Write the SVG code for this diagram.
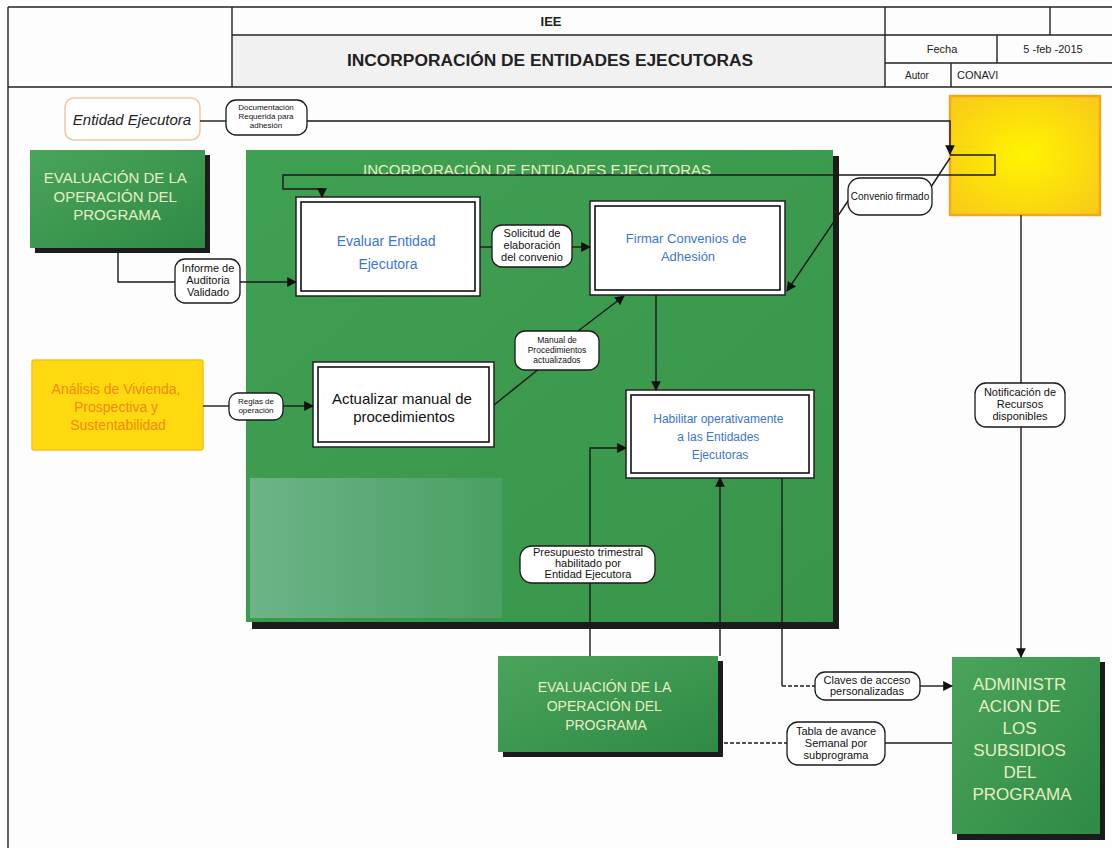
<svg xmlns="http://www.w3.org/2000/svg" width="1112" height="848" viewBox="0 0 1112 848">
  <defs>
    <style>
      .hdr { fill: none; stroke: #222; stroke-width: 1.4; }
      .hdrtxt { font-family: "Liberation Sans", Arial, sans-serif; fill: #222; }
      .conn { fill: none; stroke: #1a1a1a; stroke-width: 1.4; }
      .dash { fill: none; stroke: #1a1a1a; stroke-width: 1.6; stroke-dasharray: 4 2; }
      .lbl { fill: #fff; stroke: #1a1a1a; stroke-width: 1.3; }
      .lbltxt { font-family: "Liberation Sans", Arial, sans-serif; fill: #111; text-anchor: middle; }
      .green { fill: url(#gGreen); }
      .shadow { fill: #1c1c1c; }
      .greentxt { font-family: "Liberation Sans", Arial, sans-serif; fill: #e6efc4; text-anchor: middle; }
      .proc { fill: #fff; stroke: #222; stroke-width: 1.5; }
      .procin { fill: none; stroke: #111; stroke-width: 1.6; }
      .bluetxt { font-family: "Liberation Sans", Arial, sans-serif; fill: #3b74d6; text-anchor: middle; }
    </style>
    <linearGradient id="gGreen" x1="0" y1="0" x2="1" y2="1">
      <stop offset="0" stop-color="#4aa45a"/>
      <stop offset="1" stop-color="#2f8a46"/>
    </linearGradient>
    <linearGradient id="gBig" x1="0" y1="0" x2="1" y2="1">
      <stop offset="0" stop-color="#40a052"/>
      <stop offset="1" stop-color="#38954a"/>
    </linearGradient>
    <linearGradient id="gLight" x1="0" y1="0" x2="1" y2="0">
      <stop offset="0" stop-color="#6cb487"/>
      <stop offset="1" stop-color="#4a9f62"/>
    </linearGradient>
    <radialGradient id="gYellow" cx="0.5" cy="0.5" r="0.7">
      <stop offset="0" stop-color="#fff400"/>
      <stop offset="1" stop-color="#f8c81a"/>
    </radialGradient>
    <marker id="arr" viewBox="0 0 10 10" refX="9" refY="5" markerWidth="7" markerHeight="7" orient="auto-start-reverse">
      <path d="M0,0 L10,5 L0,10 z" fill="#111"/>
    </marker>
  </defs>

  <rect x="0" y="0" width="1112" height="848" fill="#fdfdfd"/>

  <!-- title block -->
  <g id="header">
    <rect x="232" y="35" width="653" height="52" fill="#f1f1f1"/>
    <line class="hdr" x1="8" y1="7" x2="1112" y2="7"/>
    <line class="hdr" x1="8" y1="87" x2="1112" y2="87"/>
    <line class="hdr" x1="8" y1="7" x2="8" y2="848"/>
    <line class="hdr" x1="232" y1="7" x2="232" y2="87"/>
    <line class="hdr" x1="885" y1="7" x2="885" y2="87"/>
    <line class="hdr" x1="232" y1="35" x2="1112" y2="35"/>
    <line class="hdr" x1="1050" y1="7" x2="1050" y2="35"/>
    <line class="hdr" x1="885" y1="63" x2="1112" y2="63"/>
    <line class="hdr" x1="997" y1="35" x2="997" y2="63"/>
    <line class="hdr" x1="951" y1="63" x2="951" y2="87"/>
    <text class="hdrtxt" x="551" y="26" font-size="13" font-weight="bold" text-anchor="middle">IEE</text>
    <text class="hdrtxt" x="550" y="66" font-size="16" font-weight="bold" text-anchor="middle" textLength="406" lengthAdjust="spacingAndGlyphs">INCORPORACIÓN DE ENTIDADES EJECUTORAS</text>
    <text class="hdrtxt" x="942" y="53" font-size="11" text-anchor="middle">Fecha</text>
    <text class="hdrtxt" x="1053" y="53" font-size="11" text-anchor="middle">5 -feb -2015</text>
    <text class="hdrtxt" x="917" y="79" font-size="10" text-anchor="middle">Autor</text>
    <text class="hdrtxt" x="957" y="79" font-size="11">CONAVI</text>
  </g>

  <!-- main process container -->
  <g id="container">
    <rect class="shadow" x="252" y="156" width="587" height="473"/>
    <rect x="246" y="150" width="587" height="472" fill="url(#gBig)"/>
    <rect x="250" y="478" width="252" height="140" fill="url(#gLight)"/>
    <text class="greentxt" x="537" y="175" font-size="14" fill="#dcedd3" textLength="348" lengthAdjust="spacingAndGlyphs">INCORPORACIÓN DE ENTIDADES EJECUTORAS</text>
  </g>

  <g id="entidad-ejecutora">
    <rect x="65" y="98" width="135" height="42" rx="9" fill="#fff" stroke="#f2c9a6" stroke-width="1.6"/>
    <text x="132" y="125" font-family="'Liberation Sans', Arial, sans-serif" font-size="15" font-style="italic" fill="#222" text-anchor="middle">Entidad Ejecutora</text>
  </g>

  <g id="evaluacion-top">
    <rect class="shadow" x="35" y="155" width="175" height="98"/>
    <rect class="green" x="30" y="150" width="175" height="98"/>
    <text class="greentxt" font-size="15">
      <tspan x="117" y="183">EVALUACIÓN DE LA</tspan>
      <tspan x="117" y="202">OPERACIÓN DEL</tspan>
      <tspan x="117" y="220">PROGRAMA</tspan>
    </text>
  </g>

  <g id="analisis">
    <rect x="32" y="360" width="171" height="90" rx="2" fill="#ffd90f" stroke="#f5c21a" stroke-width="1.5"/>
    <text font-family="'Liberation Sans', Arial, sans-serif" font-size="14" fill="#f28a14" text-anchor="middle">
      <tspan x="118" y="394">Análisis de Vivienda,</tspan>
      <tspan x="118" y="412">Prospectiva y</tspan>
      <tspan x="118" y="430">Sustentabilidad</tspan>
    </text>
  </g>

  <g id="recursos">
    <rect x="950" y="96" width="150" height="119" fill="url(#gYellow)" stroke="#f2a81e" stroke-width="2.5"/>
  </g>

  <g id="evaluar-entidad">
    <rect class="proc" x="296" y="197" width="184" height="99"/>
    <rect class="procin" x="301" y="202" width="174" height="89"/>
    <text class="bluetxt" font-size="14">
      <tspan x="388" y="246">Evaluar Entidad</tspan>
      <tspan x="388" y="269">Ejecutora</tspan>
    </text>
  </g>

  <g id="firmar-convenios">
    <rect class="proc" x="590" y="201" width="195" height="94"/>
    <rect class="procin" x="595" y="206" width="185" height="84"/>
    <text class="bluetxt" font-size="13">
      <tspan x="688" y="243">Firmar Convenios de</tspan>
      <tspan x="688" y="261">Adhesión</tspan>
    </text>
  </g>

  <g id="actualizar-manual">
    <rect class="proc" x="313" y="362" width="181" height="85"/>
    <rect class="procin" x="318" y="367" width="171" height="75"/>
    <text font-family="'Liberation Sans', Arial, sans-serif" font-size="15" fill="#111" text-anchor="middle">
      <tspan x="404" y="404">Actualizar manual de</tspan>
      <tspan x="404" y="422">procedimientos</tspan>
    </text>
  </g>

  <g id="habilitar">
    <rect class="proc" x="626" y="390" width="188" height="88"/>
    <rect class="procin" x="631" y="395" width="178" height="78"/>
    <text class="bluetxt" font-size="12">
      <tspan x="720" y="423">Habilitar operativamente</tspan>
      <tspan x="720" y="441">a las Entidades</tspan>
      <tspan x="720" y="459">Ejecutoras</tspan>
    </text>
  </g>

  <g id="evaluacion-bottom">
    <rect class="shadow" x="503" y="661" width="220" height="96"/>
    <rect class="green" x="498" y="656" width="220" height="96"/>
    <text class="greentxt" font-size="14">
      <tspan x="606" y="692">EVALUACIÓN DE LA</tspan>
      <tspan x="606" y="711">OPERACIÓN DEL</tspan>
      <tspan x="606" y="730">PROGRAMA</tspan>
    </text>
  </g>

  <g id="administracion">
    <rect class="shadow" x="957" y="662" width="148" height="178"/>
    <rect class="green" x="952" y="657" width="148" height="177"/>
    <text class="greentxt" font-size="17" fill="#eef6e4">
      <tspan x="1022" y="690">ADMINISTR</tspan>
      <tspan x="1022" y="712">ACION DE</tspan>
      <tspan x="1022" y="734">LOS</tspan>
      <tspan x="1022" y="756">SUBSIDIOS</tspan>
      <tspan x="1022" y="778">DEL</tspan>
      <tspan x="1022" y="800">PROGRAMA</tspan>
    </text>
  </g>

  <!-- connectors and their labels -->
  <g id="connectors">
    <path class="conn" d="M200,121 H226"/>
    <path class="conn" d="M307,121 H950 V154" marker-end="url(#arr)"/>
    <path class="conn" d="M950,155 H995 V175 H283 V189 H322 V197" marker-end="url(#arr)"/>
    <path class="conn" d="M118,248 V282 H175"/>
    <path class="conn" d="M240,282 H296" marker-end="url(#arr)"/>
    <path class="conn" d="M480,247 H492"/>
    <path class="conn" d="M572,247 H590" marker-end="url(#arr)"/>
    <path class="conn" d="M203,406 H229"/>
    <path class="conn" d="M283,406 H313" marker-end="url(#arr)"/>
    <path class="conn" d="M494,405 L540,368"/>
    <path class="conn" d="M578,331 L624,296" marker-end="url(#arr)"/>
    <path class="conn" d="M656,295 V390" marker-end="url(#arr)"/>
    <path class="conn" d="M950,158 L927,193"/>
    <path class="conn" d="M850,198 L787,291" marker-end="url(#arr)"/>
    <path class="conn" d="M1021,215 V383"/>
    <path class="conn" d="M1021,427 V657" marker-end="url(#arr)"/>
    <path class="conn" d="M590,656 V448 H626" marker-end="url(#arr)"/>
    <path class="conn" d="M720,656 V478" marker-end="url(#arr)"/>
    <path class="conn" d="M782,478 V686"/>
    <path class="dash" d="M782,686 H815"/>
    <path class="conn" d="M920,686 H952" marker-end="url(#arr)"/>
    <path class="dash" d="M718,743 H787"/>
    <path class="conn" d="M885,743 H952"/>

    <rect class="lbl" x="226" y="100" width="81" height="35" rx="10"/>
    <text class="lbltxt" font-size="8"><tspan x="266" y="110">Documentación</tspan><tspan x="266" y="119">Requerida para</tspan><tspan x="266" y="128">adhesión</tspan></text>

    <rect class="lbl" x="175" y="259" width="65" height="44" rx="10"/>
    <text class="lbltxt" font-size="11"><tspan x="208" y="272">Informe de</tspan><tspan x="208" y="284">Auditoria</tspan><tspan x="208" y="296">Validado</tspan></text>

    <rect class="lbl" x="492" y="225" width="80" height="42" rx="10"/>
    <text class="lbltxt" font-size="11"><tspan x="532" y="237">Solicitud de</tspan><tspan x="532" y="249">elaboración</tspan><tspan x="532" y="261">del convenio</tspan></text>

    <rect class="lbl" x="229" y="393" width="54" height="27" rx="9"/>
    <text class="lbltxt" font-size="8"><tspan x="256" y="404">Reglas de</tspan><tspan x="256" y="413">operación</tspan></text>

    <rect class="lbl" x="515" y="331" width="84" height="39" rx="10"/>
    <text class="lbltxt" font-size="8.5"><tspan x="557" y="343">Manual de</tspan><tspan x="557" y="353">Procedimientos</tspan><tspan x="557" y="363">actualizados</tspan></text>

    <rect class="lbl" x="848" y="178" width="84" height="37" rx="12"/>
    <text class="lbltxt" font-size="10"><tspan x="890" y="200">Convenio firmado</tspan></text>

    <rect class="lbl" x="975" y="383" width="90" height="44" rx="11"/>
    <text class="lbltxt" font-size="11"><tspan x="1020" y="396">Notificación de</tspan><tspan x="1020" y="408">Recursos</tspan><tspan x="1020" y="420">disponibles</tspan></text>

    <rect class="lbl" x="520" y="546" width="135" height="37" rx="12"/>
    <text class="lbltxt" font-size="11"><tspan x="588" y="556">Presupuesto trimestral</tspan><tspan x="588" y="567">habilitado por</tspan><tspan x="588" y="578">Entidad Ejecutora</tspan></text>

    <rect class="lbl" x="815" y="672" width="105" height="28" rx="10"/>
    <text class="lbltxt" font-size="11"><tspan x="867" y="684">Claves de acceso</tspan><tspan x="867" y="695">personalizadas</tspan></text>

    <rect class="lbl" x="787" y="722" width="98" height="43" rx="11"/>
    <text class="lbltxt" font-size="11"><tspan x="836" y="735">Tabla de avance</tspan><tspan x="836" y="747">Semanal por</tspan><tspan x="836" y="759">subprograma</tspan></text>
  </g>
</svg>
